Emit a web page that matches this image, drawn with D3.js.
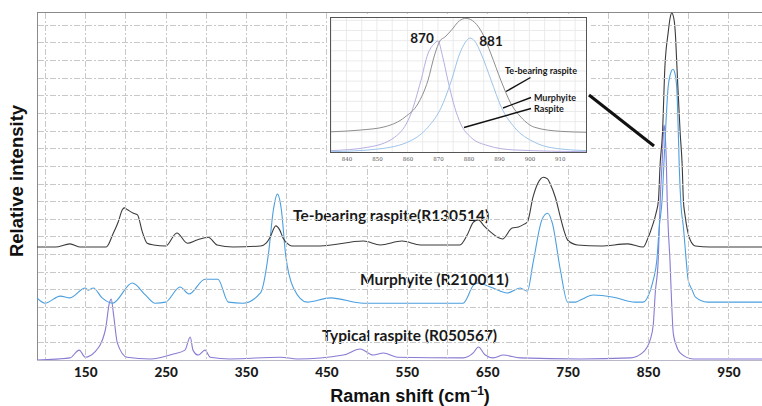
<!DOCTYPE html>
<html>
<head>
<meta charset="utf-8">
<script src="https://cdn.jsdelivr.net/npm/d3@7"></script>
<style>
  body { margin: 0; background: #fff; }
  #viz svg { display: block; }
</style>
</head>
<body>
<div id="viz"></div>
<script>
// Raman spectra, stacked (shift in cm-1, relative intensity incl. offset)
const teBearingRaspite = [
  [90,32.0],[113,32.0],[131,32.9],[144,32.0],[176,32.0],[185,36.0],[191,39.1],[196,42.5],[198.5,43.1],
  [203,42.5],[210,41.6],[215,41.1],[221,36.3],[227,33.1],[235,32.6],[250,32.3],[264,36.0],[277,33.1],
  [289,34.0],[303,34.8],[314,32.6],[334,32.0],[368,32.3],[375,33.1],[380,34.8],[387,38.0],[392,36.8],
  [396,34.6],[402,32.9],[407,32.3],[442,32.3],[496,33.7],[517,32.6],[544,33.7],[567,32.6],[616,32.6],
  [625,35.4],[633,39.1],[639,39.7],[646,38.0],[654,36.3],[669,34.3],[681,37.4],[689,37.7],[696,38.5],
  [700,39.1],[707,46.2],[713,50.1],[720,51.8],[725,51.3],[728,50.1],[735,45.9],[741,40.5],[746,36.3],
  [750,34.0],[762,32.6],[791,32.3],[825,32.9],[844,32.0],[849,34.0],[855,37.7],[860,41.6],[863,45.3],
  [865,55.2],[868,64.3],[871,83.0],[875,92.6],[877.5,96.9],[879.5,98.3],[882,96.9],[884,92.6],[886,83.0],
  [890,64.3],[892.5,55.2],[894,45.3],[896,41.1],[899,36.8],[902.5,34.0],[909,32.3],[927,32.0],[1000,32.0]
];
const murphyite = [
  [90,17.6],[100,16.1],[119,18.1],[131,17.6],[150,20.4],[154,19.8],[160,20.4],[171,17.6],[184,16.1],
  [208.5,21.8],[225,18.4],[237,16.1],[250,16.4],[268,20.7],[279,18.7],[299,22.9],[315,22.9],[328,16.4],
  [346,16.1],[368,19.0],[378,30.3],[384,42.5],[389,47.0],[394,42.5],[399,30.3],[409,20.4],[426,16.4],
  [455,17.6],[496,16.1],[620,16.1],[633,21.2],[638,21.8],[654,20.7],[675,19.0],[691,20.4],[700,19.5],
  [707,27.5],[718,39.7],[725,41.6],[731,38.8],[741,25.5],[750,16.4],[760,16.4],[766,17.0],[782,18.4],
  [807,17.8],[834,16.4],[844,16.4],[853,19.8],[856.5,22.6],[861,28.3],[864,37.7],[867.5,45.3],[870,56.7],
  [872.5,68.0],[875,77.3],[877.5,80.7],[881,82.4],[884,80.7],[886,76.0],[887.5,66.0],[889,54.0],[891,44.0],
  [894,37.7],[897.5,28.3],[900,22.6],[905,19.8],[909,17.8],[924,16.4],[1000,16.4]
];
const raspite = [
  [90,0],[131,0.6],[142.5,2.8],[150,0.8],[162,2.3],[175,8.5],[180,16.1],[182.3,17.3],[185,13.3],
  [190,4.8],[202,0.8],[231,0.3],[259.5,1.7],[274,2.8],[280.6,6.5],[284,2.8],[290.5,1.4],[299,2.8],
  [305.5,0.8],[330,0.3],[392.5,0.8],[414,0.3],[471,1.4],[492,3.1],[508,1.4],[521,2.0],[538,0.8],
  [620,0.6],[632.6,2.0],[639,3.7],[647.5,1.4],[657.5,0.6],[670,1.4],[691,0.6],[766,0.3],[828,0.6],
  [843,2.0],[852.7,5.7],[856.5,9.9],[859,19.0],[862.7,28.3],[865.2,45.3],[867.7,56.7],[869,63.7],
  [870,66.6],[871.4,63.7],[872.7,56.7],[873.9,45.3],[875.1,37.7],[877.3,28.3],[878.9,19.0],[881.4,7.6],
  [885,4.2],[890,2.0],[906,0.3],[1000,0.3]
];

// inset: zoom on the 835-919 cm-1 band, each curve normalised
const insetTe = [
  [834.9,15.0],[844.8,16.3],[852.6,18.7],[859.2,25.9],[863.4,35.6],[866.7,52.8],[869.0,72.6],[870.7,82.4],
  [872.3,85.2],[874.3,89.9],[877.1,97.3],[879.2,99.0],[882.0,96.1],[884.7,87.4],[887.4,72.6],[890.7,52.8],
  [894.0,35.6],[897.2,25.9],[901.7,18.3],[910.3,15.3],[919.5,14.6]
];
const insetMurphyite = [
  [834.9,0.2],[850.3,2.2],[861.1,8.4],[866.7,18.3],[871.1,33.1],[874.4,52.8],[877.1,72.6],[879.0,81.3],
  [880.5,84.4],[882.0,82.4],[884.2,72.6],[887.5,52.8],[890.8,33.1],[895.1,18.3],[901.7,7.2],[910.4,2.2],
  [919.5,1.0]
];
const insetRaspite = [
  [834.9,1.0],[847.0,3.5],[855.8,10.9],[861.1,28.1],[864.4,52.8],[866.7,72.6],[868.7,80.0],[870.0,82.2],
  [871.6,70.1],[873.3,52.8],[875.5,33.1],[877.5,20.7],[880.8,10.9],[886.4,4.7],[895.1,1.5],[919.5,0.2]
];

const xTicks = [150, 250, 350, 450, 550, 650, 750, 850, 950];
const insetTicks = [840, 850, 860, 870, 880, 890, 900, 910];
const seriesLabels = ["Te-bearing raspite(R130514)", "Murphyite (R210011)", "Typical raspite (R050567)"];
const insetLabels = ["Te-bearing raspite", "Murphyite", "Raspite"];
const peakLabels = ["870", "881"];

const WIDTH = 762, HEIGHT = 406;
const COLORS = { te: "#3b3b3b", murph: "#4a9fe0", rasp: "#877bd2",
  teLight: "#8e8e8e", murphLight: "#9cc4ea", raspLight: "#b6aee2", grid: "#c8c8c8", frame: "#8a8a8a" };

const svg = d3.select("#viz").append("svg")
  .attr("width", WIDTH).attr("height", HEIGHT);

const x = d3.scaleLinear().domain([90, 1000]).range([37, 768.6]);
const y = d3.scaleLinear().domain([0, 98.6]).range([360, 12]);

svg.append("defs").append("clipPath").attr("id", "plot-clip")
  .append("rect").attr("x", 37).attr("y", 12).attr("width", 732).attr("height", 348);

// frame
svg.append("line").attr("x1", 37.5).attr("x2", 37.5).attr("y1", 12).attr("y2", 360)
  .attr("stroke", COLORS.frame);
svg.append("line").attr("x1", 37).attr("x2", WIDTH).attr("y1", 12.5).attr("y2", 12.5)
  .attr("stroke", COLORS.frame);
svg.append("line").attr("x1", 37).attr("x2", WIDTH).attr("y1", 360.5).attr("y2", 360.5)
  .attr("stroke", "#b8b8c8");

const line = d3.line().x(d => x(d[0])).y(d => y(d[1])).curve(d3.curveMonotoneX);
const plot = svg.append("g").attr("clip-path", "url(#plot-clip)");
[[raspite, COLORS.rasp], [murphyite, COLORS.murph], [teBearingRaspite, COLORS.te]].forEach(([data, c]) => {
  plot.append("path").datum(data).attr("d", line)
    .attr("fill", "none").attr("stroke", c).attr("stroke-width", 1.1);
});

// x axis
const xAxis = svg.append("g").attr("transform", "translate(0,360)")
  .call(d3.axisBottom(x).tickValues(xTicks).tickSize(0).tickPadding(7));
xAxis.select(".domain").remove();
xAxis.selectAll("text").attr("font-family", "Lato").attr("font-weight", "900")
  .attr("font-size", 13.5).attr("fill", "#1a1a1a");

svg.append("text").attr("x", 410).attr("y", 402)
  .attr("text-anchor", "middle").attr("font-family", "Liberation Sans")
  .attr("font-weight", "bold").attr("font-size", 18).attr("fill", "#111")
  .call(t => {
    t.append("tspan").text("Raman shift (cm");
    t.append("tspan").attr("dy", -7).attr("font-size", 12).text("\u22121");
    t.append("tspan").attr("dy", 7).text(")");
  });

svg.append("text").attr("transform", "translate(23,181) rotate(-90)")
  .attr("text-anchor", "middle").attr("font-family", "Liberation Sans")
  .attr("font-weight", "bold").attr("font-size", 18.5).attr("fill", "#111")
  .text("Relative intensity");

// series labels
const labelPos = [[293, 221], [360, 285], [322, 341]];
seriesLabels.forEach((s, i) => {
  svg.append("text").attr("x", labelPos[i][0]).attr("y", labelPos[i][1])
    .attr("font-family", "Lato").attr("font-weight", "bold").attr("font-size", 15.5)
    .attr("fill", "#1a1a1a").text(s);
});

// dash-dot grid (light, drawn over the main plot, under the inset)
const grid = svg.append("g").attr("fill", "none").attr("stroke", COLORS.grid)
  .attr("stroke-width", 1).attr("stroke-dasharray", "6,2,2,2");
grid.selectAll("line.v").data(d3.range(100, 1000, 50)).join("line").attr("class", "v")
  .attr("x1", d => Math.round(x(d)) + 0.5).attr("x2", d => Math.round(x(d)) + 0.5)
  .attr("y1", 13).attr("y2", 360);
grid.selectAll("line.h").data(d3.range(5, 96, 5)).join("line").attr("class", "h")
  .attr("x1", 38).attr("x2", WIDTH)
  .attr("y1", d => Math.round(y(d)) + 0.5).attr("y2", d => Math.round(y(d)) + 0.5);

// inset
const ix = d3.scaleLinear().domain([834.6, 918.9]).range([330, 587]);
const iy = d3.scaleLinear().domain([0, 100]).range([152, 17]);
const inset = svg.append("g");
inset.append("rect").attr("x", 327).attr("y", 14).attr("width", 264).attr("height", 150).attr("fill", "#fff");
inset.append("clipPath").attr("id", "inset-clip")
  .append("rect").attr("x", 330).attr("y", 17).attr("width", 257).attr("height", 135);
const ig = inset.append("g").attr("stroke", "#e6e6e6").attr("stroke-width", 0.8);
ig.selectAll("line.v").data(d3.range(835, 919, 5)).join("line").attr("class", "v")
  .attr("x1", d => ix(d)).attr("x2", d => ix(d)).attr("y1", 17).attr("y2", 152);
ig.selectAll("line.h").data(d3.range(7.5, 100, 7.5)).join("line").attr("class", "h")
  .attr("y1", d => iy(d)).attr("y2", d => iy(d)).attr("x1", 330).attr("x2", 587);

const iline = d3.line().x(d => ix(d[0])).y(d => iy(d[1])).curve(d3.curveMonotoneX);
const icurves = inset.append("g").attr("clip-path", "url(#inset-clip)");
[[insetRaspite, COLORS.raspLight], [insetMurphyite, COLORS.murphLight], [insetTe, COLORS.teLight]].forEach(([data, c]) => {
  icurves.append("path").datum(data).attr("d", iline)
    .attr("fill", "none").attr("stroke", c).attr("stroke-width", 1);
});
inset.append("rect").attr("x", 330.5).attr("y", 17.5).attr("width", 256).attr("height", 135)
  .attr("fill", "none").attr("stroke", "#555");

const iAxis = inset.append("g").attr("transform", "translate(0,152)")
  .call(d3.axisBottom(ix).tickValues(insetTicks).tickSize(0).tickPadding(5));
iAxis.select(".domain").remove();
iAxis.selectAll("text").attr("font-family", "DejaVu Serif").attr("font-size", 5.5).attr("fill", "#555");

inset.append("text").attr("x", 422).attr("y", 43).attr("text-anchor", "middle")
  .attr("font-family", "Lato").attr("font-weight", "bold").attr("font-size", 13.5).attr("fill", "#1a1a1a")
  .text(peakLabels[0]);
inset.append("text").attr("x", 491).attr("y", 46).attr("text-anchor", "middle")
  .attr("font-family", "Lato").attr("font-weight", "bold").attr("font-size", 13.5).attr("fill", "#1a1a1a")
  .text(peakLabels[1]);

const insetLabelPos = [[541, 74], [555, 100.5], [549, 112]];
insetLabels.forEach((s, i) => {
  inset.append("text").attr("x", insetLabelPos[i][0]).attr("y", insetLabelPos[i][1])
    .attr("text-anchor", "middle").attr("font-family", "Lato").attr("font-weight", "bold")
    .attr("font-size", 9).attr("fill", "#1a1a1a").text(s);
});
const leaders = [[506, 91.5, 530.5, 77.5], [503, 108, 531, 97.5], [464, 127.5, 531, 108.5]];
inset.selectAll("line.leader").data(leaders).join("line").attr("class", "leader")
  .attr("x1", d => d[0]).attr("y1", d => d[1]).attr("x2", d => d[2]).attr("y2", d => d[3])
  .attr("stroke", "#111").attr("stroke-width", 1.4);

// pointer from inset to the main peak
svg.append("line").attr("x1", 589).attr("y1", 95).attr("x2", 654).attr("y2", 146)
  .attr("stroke", "#111").attr("stroke-width", 3);
</script>
</body>
</html>
